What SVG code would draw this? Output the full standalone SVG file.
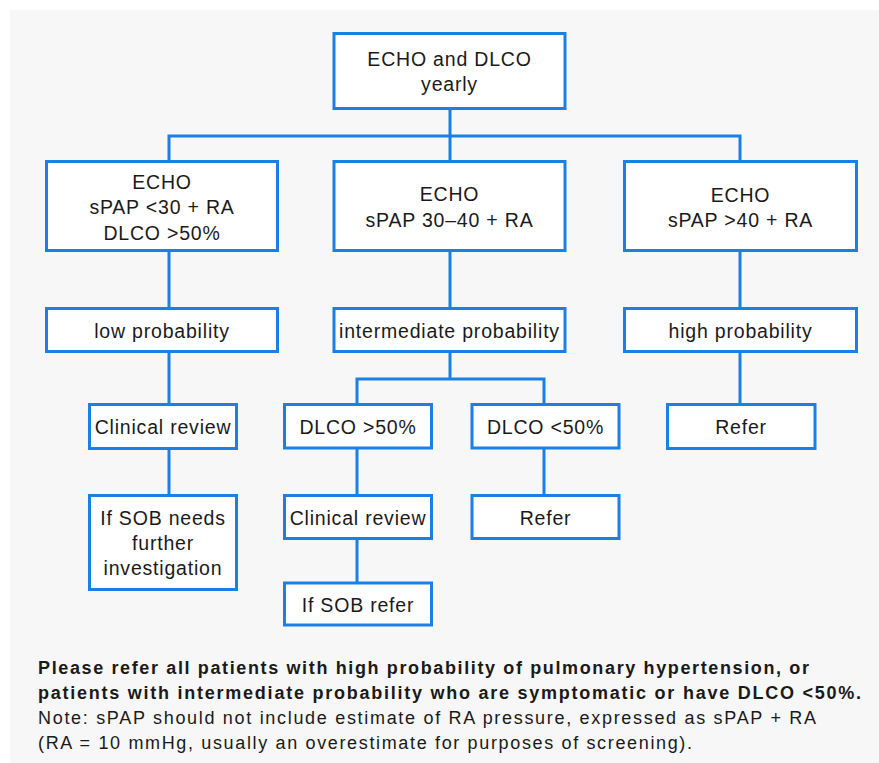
<svg xmlns="http://www.w3.org/2000/svg" width="879" height="763" viewBox="0 0 879 763">
<style>
.box{fill:#ffffff;stroke:#1a80e5;stroke-width:3}
.conn{fill:none;stroke:#1a80e5;stroke-width:3}
.t{font-family:"Liberation Sans",Arial,Helvetica,sans-serif;font-size:19.5px;letter-spacing:0.8px;fill:#1a1a1a;text-anchor:middle}
.n{font-family:"Liberation Sans",Arial,Helvetica,sans-serif;font-size:18px;fill:#1a1a1a}
.b{font-weight:bold}
</style>
<rect x="0" y="0" width="879" height="763" fill="#ffffff"/>
<rect x="10" y="10" width="869" height="753" fill="#f7f7f7"/>
<g id="connectors">
<path class="conn" d="M450,110V160M169,160V136H740V160"/>
<path class="conn" d="M169,252V307M450,252V307M740,252V307"/>
<path class="conn" d="M169,353V403M169,449V494"/>
<path class="conn" d="M450,353V379M357,403V379H544V403"/>
<path class="conn" d="M357,448V494M357,539V582M544,448V494"/>
<path class="conn" d="M740,353V403"/>
</g>
<g id="start">
<rect class="box" x="334" y="33.5" width="231" height="75"/>
<text class="t" x="449.5" y="65.5">ECHO and DLCO</text>
<text class="t" x="449.5" y="91">yearly</text>
</g>
<g id="echo-low">
<rect class="box" x="46.5" y="161.5" width="231" height="89"/>
<text class="t" x="162" y="188.5">ECHO</text>
<text class="t" x="162" y="214">sPAP &lt;30 + RA</text>
<text class="t" x="162" y="239.5">DLCO &gt;50%</text>
</g>
<g id="echo-mid">
<rect class="box" x="334" y="161.5" width="231" height="89"/>
<text class="t" x="449.5" y="201">ECHO</text>
<text class="t" x="449.5" y="226.5">sPAP 30–40 + RA</text>
</g>
<g id="echo-high">
<rect class="box" x="624.5" y="161.5" width="232" height="89"/>
<text class="t" x="740.5" y="201.5">ECHO</text>
<text class="t" x="740.5" y="227">sPAP &gt;40 + RA</text>
</g>
<g id="low-prob">
<rect class="box" x="46.5" y="308.5" width="231" height="43"/>
<text class="t" x="162" y="338">low probability</text>
</g>
<g id="int-prob">
<rect class="box" x="334" y="308.5" width="231" height="43"/>
<text class="t" x="449.5" y="338">intermediate probability</text>
</g>
<g id="high-prob">
<rect class="box" x="624.5" y="308.5" width="232" height="43"/>
<text class="t" x="740.5" y="338">high probability</text>
</g>
<g id="clinical-review-low">
<rect class="box" x="89.5" y="404.5" width="147" height="44"/>
<text class="t" x="163" y="434">Clinical review</text>
</g>
<g id="sob-investigate">
<rect class="box" x="89.5" y="495.5" width="147" height="94"/>
<text class="t" x="163" y="525">If SOB needs</text>
<text class="t" x="163" y="550">further</text>
<text class="t" x="163" y="575">investigation</text>
</g>
<g id="dlco-above">
<rect class="box" x="284.5" y="404.5" width="147" height="43.5"/>
<text class="t" x="358" y="434">DLCO &gt;50%</text>
</g>
<g id="dlco-below">
<rect class="box" x="472" y="404.5" width="147" height="43.5"/>
<text class="t" x="545.5" y="434">DLCO &lt;50%</text>
</g>
<g id="clinical-review-mid">
<rect class="box" x="284.5" y="495.5" width="147" height="43"/>
<text class="t" x="358" y="525">Clinical review</text>
</g>
<g id="refer-mid">
<rect class="box" x="472" y="495.5" width="147" height="43"/>
<text class="t" x="545.5" y="525">Refer</text>
</g>
<g id="sob-refer">
<rect class="box" x="284.5" y="583" width="147" height="42"/>
<text class="t" x="358" y="611.5">If SOB refer</text>
</g>
<g id="refer-high">
<rect class="box" x="667.5" y="404.5" width="147.5" height="44"/>
<text class="t" x="741" y="434">Refer</text>
</g>
<g id="notes">
<text class="n b" x="38" y="674" textLength="771">Please refer all patients with high probability of pulmonary hypertension, or</text>
<text class="n b" x="38" y="699" textLength="823">patients with intermediate probability who are symptomatic or have DLCO &lt;50%.</text>
<text class="n" x="38" y="724" textLength="778">Note: sPAP should not include estimate of RA pressure, expressed as sPAP + RA</text>
<text class="n" x="38" y="749" textLength="654">(RA = 10 mmHg, usually an overestimate for purposes of screening).</text>
</g>
</svg>
